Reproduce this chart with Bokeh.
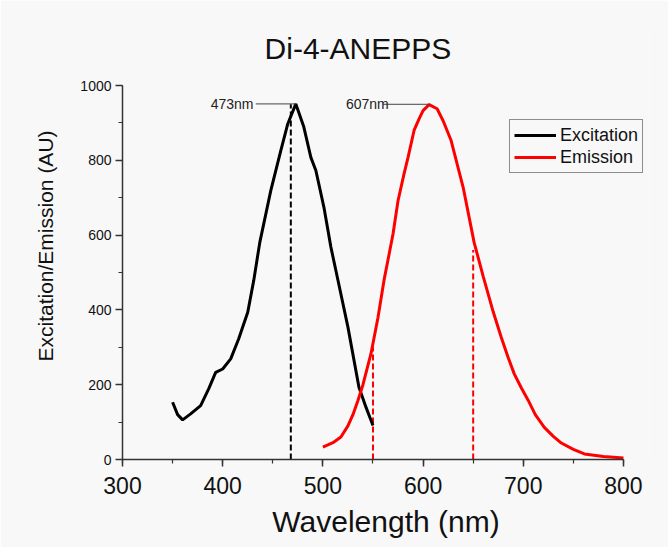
from bokeh.plotting import figure
from bokeh.models import Range1d, Label, Legend, LegendItem, FixedTicker, ColumnDataSource
from bokeh.embed import file_html
from bokeh.resources import INLINE

# ---- data ----
exc_wl = [350, 355, 360, 368, 378, 386, 393, 400, 408, 416, 425, 431, 437, 448,
          458, 465, 473, 481, 488, 493, 501, 508, 515, 525, 536, 543, 550]
exc_au = [153, 120, 106, 122, 144, 189, 233, 242, 269, 323, 394, 479, 580, 719,
          826, 898, 951, 889, 808, 773, 675, 568, 480, 354, 193, 140, 91]

em_wl = [500, 510, 518, 525, 530, 535, 540, 548, 555, 561, 570, 575, 581, 585,
         591, 596, 600, 606, 614, 620, 628, 640, 651, 660, 670, 678, 685, 691,
         698, 705, 712, 721, 730, 738, 750, 761, 780, 800]
em_au = [33, 45, 60, 90, 120, 158, 200, 283, 380, 479, 603, 692, 764, 808,
         880, 911, 933, 949, 938, 906, 853, 728, 580, 490, 395, 327, 272, 229,
         192, 158, 120, 86, 62, 44, 27, 15, 8, 4]

peak_wl = [473, 607]
peak_au = [951, 950]
peak_labels = ["473nm", "607nm"]

marker_wl = [468, 550, 650]
marker_top = [950, 300, 560]
marker_color = ["black", "red", "red"]

x_ticks = [300, 400, 500, 600, 700, 800]
y_ticks = [0, 200, 400, 600, 800, 1000]

title_text = "Di-4-ANEPPS"
x_title = "Wavelength (nm)"
y_title = "Excitation/Emission (AU)"
series_names = ["Excitation", "Emission"]

BG = "#f8f8f8"
AX = "#333333"
FONT = "Liberation Sans"

# frame extends beyond the drawn axes so the title and legend are not clipped
p = figure(width=668, height=547, output_backend="svg", toolbar_location=None,
           x_range=Range1d(300, 826), y_range=Range1d(0, 1142),
           min_border_left=122, min_border_right=19, min_border_top=32,
           min_border_bottom=88)
p.background_fill_color = BG
p.border_fill_color = BG
p.outline_line_color = None
p.grid.grid_line_color = None

# axes
p.xaxis.bounds = (300, 800)
p.yaxis.bounds = (0, 1000)
p.xaxis.ticker = FixedTicker(ticks=x_ticks, minor_ticks=list(range(300, 801, 50)))
p.yaxis.ticker = FixedTicker(ticks=y_ticks, minor_ticks=list(range(0, 1001, 100)))
for ax in (p.xaxis, p.yaxis):
    ax.axis_line_color = AX
    ax.axis_line_width = 1.5
    ax.major_tick_line_color = AX
    ax.minor_tick_line_color = AX
    ax.major_tick_line_width = 1.5
    ax.minor_tick_line_width = 1.2
    ax.major_tick_in = 0
    ax.major_tick_out = 7
    ax.minor_tick_in = 0
    ax.minor_tick_out = 4
    ax.major_label_text_font = FONT
    ax.major_label_text_color = "#111111"
    ax.axis_label_text_font = FONT
    ax.axis_label_text_font_style = "normal"
    ax.axis_label_text_color = "#111111"

p.xaxis.major_label_text_font_size = "23px"
p.xaxis.major_label_standoff = 10
p.xaxis.axis_label = x_title
p.xaxis.axis_label_text_font_size = "30px"
p.xaxis.axis_label_standoff = 8

p.yaxis.major_label_text_font_size = "14px"
p.yaxis.major_label_standoff = 4
p.yaxis.axis_label = y_title
p.yaxis.axis_label_text_font_size = "21px"
p.yaxis.axis_label_standoff = 20

# dashed marker lines
p.segment(x0=marker_wl, y0=[0] * len(marker_wl), x1=marker_wl, y1=marker_top,
          line_color=marker_color, line_width=2, line_dash="6 3")

# curves
exc_src = ColumnDataSource(data=dict(x=exc_wl, y=exc_au))
em_src = ColumnDataSource(data=dict(x=em_wl, y=em_au))
r_exc = p.line("x", "y", source=exc_src, line_color="black", line_width=3)
r_em = p.line("x", "y", source=em_src, line_color="red", line_width=3)

# peak annotations
label_offsets = [-85, -84]
line_starts = [-40, -47]
for wl, au, txt, off, ls in zip(peak_wl, peak_au, peak_labels, label_offsets, line_starts):
    p.line([wl + ls, wl], [au, au], line_color="#444444", line_width=1)
    p.add_layout(Label(x=wl + off, y=au, text=txt, text_font=FONT,
                       text_font_size="14px", text_baseline="middle",
                       text_color="#222222"))

# title
p.add_layout(Label(x=535, y=1099, text=title_text, text_font=FONT,
                   text_font_size="30px", text_align="center",
                   text_baseline="middle", text_color="#111111"))

legend = Legend(items=[LegendItem(label=series_names[0], renderers=[r_exc]),
                       LegendItem(label=series_names[1], renderers=[r_em])],
                location=(387, 286), orientation="vertical",
                label_text_font=FONT, label_text_font_size="18px",
                label_text_color="#111111",
                glyph_width=42, glyph_height=22, label_height=22,
                label_standoff=4, padding=4, spacing=0, margin=0,
                border_line_color="#222222", border_line_width=1.5,
                background_fill_color=BG, background_fill_alpha=1)
p.add_layout(legend)

open("out.html", "w").write(file_html(p, INLINE))
